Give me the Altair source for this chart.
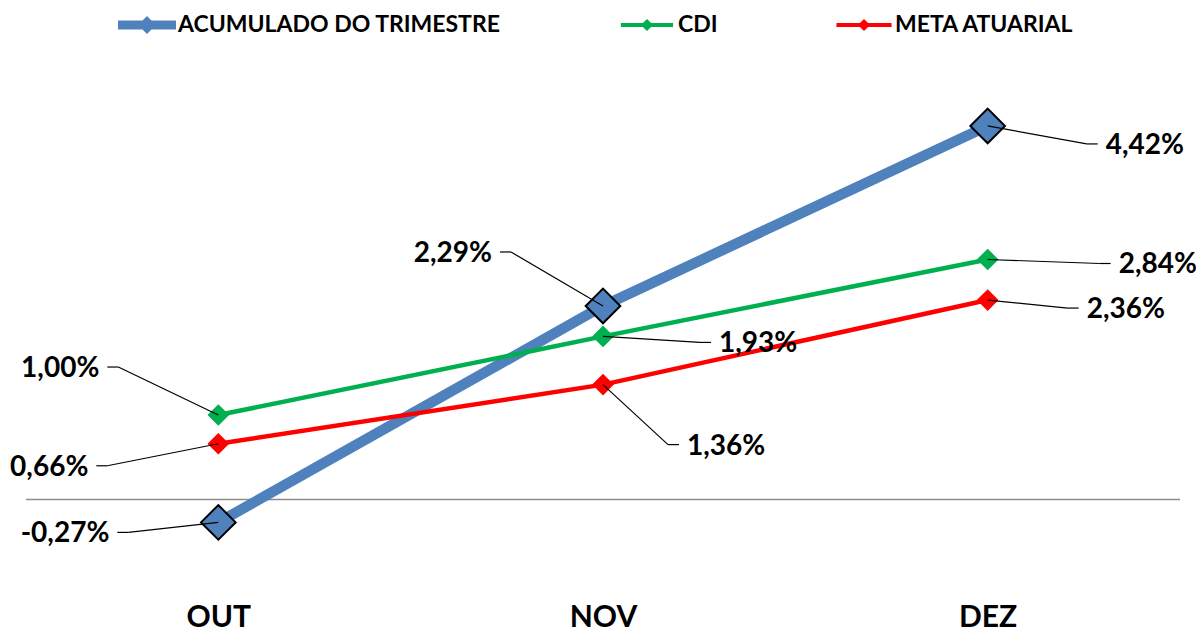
import json
import altair as alt
import pandas as pd

# ---------------- data ----------------
months = ["OUT", "NOV", "DEZ"]
series = ["ACUMULADO DO TRIMESTRE", "CDI", "META ATUARIAL"]
acumulado = [-0.27, 2.29, 4.42]
cdi = [1.00, 1.93, 2.84]
meta = [0.66, 1.36, 2.36]
values = {series[0]: acumulado, series[1]: cdi, series[2]: meta}

# ---------------- style / layout ----------------
colors = ["#4F81BD", "#00B050", "#FF0000"]
line_widths = [10.5, 4.5, 4.5]
FONT = "Lato"
W, H = 1154, 541
YMIN, YMAX = -1.2, 5.2
XMIN, XMAX = -0.5, 2.5
PX = W / (XMAX - XMIN)
PY = H / (YMAX - YMIN)

# leader line layout (pixel offsets of the elbow from the point, side of label)
leader = {
    (series[0], "OUT"): (-90, 10, -1),
    (series[0], "NOV"): (-92, -54, -1),
    (series[0], "DEZ"): (99, 18, 1),
    (series[1], "OUT"): (-100, -48, -1),
    (series[1], "NOV"): (97, 6, 1),
    (series[1], "DEZ"): (112, 4, 1),
    (series[2], "OUT"): (-111, 22, -1),
    (series[2], "NOV"): (65, 60, 1),
    (series[2], "DEZ"): (80, 8, 1),
}
HSEG = 11

rows, segs = [], []
for s in series:
    for i, m in enumerate(months):
        v = values[s][i]
        dx, dy, side = leader[(s, m)]
        ex = i + dx / PX
        ey = v - dy / PY
        hx = ex + side * HSEG / PX
        rows.append({"serie": s, "i": i, "mes": m, "v": v,
                     "lx": hx, "ly": ey, "side": side,
                     "label": f"{v:.2f}%".replace(".", ",")})
        segs.append({"x1": i, "y1": v, "x2": ex, "y2": ey})
        segs.append({"x1": ex, "y1": ey, "x2": hx, "y2": ey})

df = pd.DataFrame(rows)
seg_df = pd.DataFrame(segs)

xscale = alt.Scale(domain=[XMIN, XMAX], nice=False, zero=False)
yscale = alt.Scale(domain=[YMIN, YMAX], nice=False, zero=False)
xaxis = alt.Axis(values=[0, 1, 2], labelExpr=json.dumps(months) + "[datum.value]",
                 domain=False, ticks=False, grid=False, title=None,
                 labelFont=FONT, labelFontWeight="bold", labelFontSize=30,
                 labelColor="black", labelPadding=25, labelBaseline="alphabetic",
                 labelFlush=False)

X = alt.X("i:Q", scale=xscale, axis=xaxis)
Y = alt.Y("v:Q", scale=yscale, axis=None)

zero = alt.Chart(pd.DataFrame({"v": [0]})).mark_rule(
    color="#8C8C8C", strokeWidth=1.5).encode(y=Y)

layers = [zero]
for k, s in enumerate(series):
    sub = alt.Chart(df).transform_filter(alt.datum.serie == s)
    layers.append(sub.mark_line(color=colors[k], strokeWidth=line_widths[k],
                                strokeCap="round").encode(x=X, y=Y))
for k, s in enumerate(series):
    sub = alt.Chart(df).transform_filter(alt.datum.serie == s)
    if k == 0:
        pts = sub.mark_point(shape="diamond", filled=True, size=1200,
                             fill=colors[k], stroke="black", strokeWidth=2,
                             opacity=1)
    else:
        pts = sub.mark_point(shape="diamond", filled=True, size=470,
                             color=colors[k], opacity=1)
    layers.append(pts.encode(x=X, y=Y))

# legend (no marks drawn, legend only)
paths = [
    "M-1,-0.155H1V0.155H-1Z M0,-0.31L0.31,0L0,0.31L-0.31,0Z",
    "M-0.9,-0.07H0.9V0.07H-0.9Z M0,-0.21L0.21,0L0,0.21L-0.21,0Z",
    "M-0.95,-0.07H0.95V0.07H-0.95Z M0,-0.21L0.21,0L0,0.21L-0.21,0Z",
]
leg = alt.Legend(orient="none", legendX=92, legendY=-64, direction="horizontal",
                 title=None, labelFont=FONT, labelFontWeight="bold",
                 labelFontSize=23, labelColor="black", labelLimit=500,
                 symbolSize=3364, symbolStrokeWidth=0, labelOffset=2,
                 columnPadding=117, padding=0, symbolOpacity=1)
legend_layer = alt.Chart(df).transform_filter("false").mark_point(
    filled=True, opacity=1).encode(
    x=X, y=Y,
    color=alt.Color("serie:N", scale=alt.Scale(domain=series, range=colors), legend=leg),
    shape=alt.Shape("serie:N", scale=alt.Scale(domain=series, range=paths), legend=leg),
)
layers.append(legend_layer)

# leader lines
layers.append(alt.Chart(seg_df).mark_rule(color="black", strokeWidth=1.2).encode(
    x=alt.X("x1:Q", scale=xscale, axis=xaxis), y=alt.Y("y1:Q", scale=yscale, axis=None),
    x2="x2:Q", y2="y2:Q"))

# data labels
txt = dict(font=FONT, fontWeight="bold", fontSize=28, color="black", baseline="middle", dy=2)
layers.append(alt.Chart(df).transform_filter(alt.datum.side < 0).mark_text(
    align="right", dx=-8, **txt).encode(
    x=alt.X("lx:Q", scale=xscale, axis=xaxis), y=alt.Y("ly:Q", scale=yscale, axis=None),
    text="label:N"))
layers.append(alt.Chart(df).transform_filter(alt.datum.side > 0).mark_text(
    align="left", dx=8, **txt).encode(
    x=alt.X("lx:Q", scale=xscale, axis=xaxis), y=alt.Y("ly:Q", scale=yscale, axis=None),
    text="label:N"))

chart = alt.layer(*layers).properties(
    width=W, height=H,
    padding={"left": 18, "top": 52, "right": 16, "bottom": 31},
    autosize="none", background="white",
).configure_view(stroke="transparent")

chart.save("out.html", embed_options={"renderer": "svg", "actions": False})
